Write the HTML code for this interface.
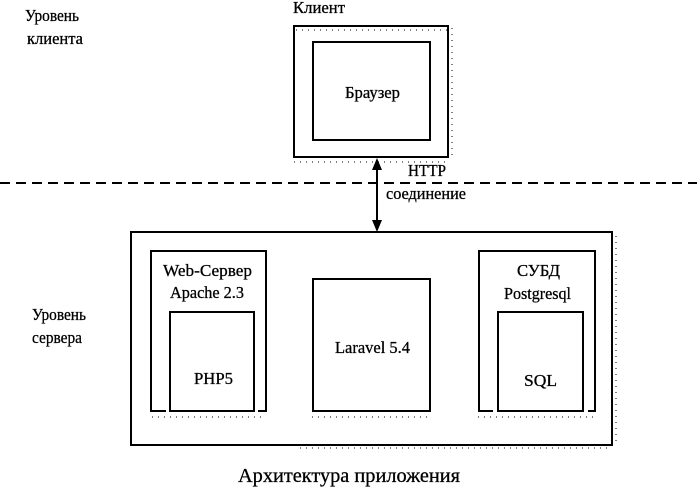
<!DOCTYPE html>
<html><head><meta charset="utf-8"><style>html,body{margin:0;padding:0;background:#fff}svg{display:block}</style></head>
<body>
<svg width="697" height="488" viewBox="0 0 697 488" xmlns="http://www.w3.org/2000/svg" font-family="Liberation Serif, serif" font-size="17" fill="#000">
<g fill="none" stroke="#000" stroke-width="2">
<rect x="294" y="26" width="154" height="131"/>
<rect x="313" y="42" width="117" height="98"/>
<line x1="0" y1="183" x2="697" y2="183" stroke-dasharray="10,6"/>
<line x1="377" y1="168" x2="377" y2="222"/>
<rect x="131" y="232" width="481" height="213"/>
<path d="M166,411 H151 V251 H266 V411 H258"/>
<rect x="170" y="312" width="84" height="99"/>
<rect x="313" y="279" width="117" height="132"/>
<path d="M493,411 H479 V251 H595 V411 H588"/>
<rect x="498" y="312" width="85" height="99"/>
</g>
<polygon points="377,158 372,170 382,170"/>
<polygon points="377,232 372,220 382,220"/>
<g stroke="#000" stroke-width="1" stroke-dasharray="1,5" fill="none">
<line x1="294" y1="162" x2="450" y2="162"/>
<line x1="452" y1="28" x2="452" y2="160"/>
<line x1="296" y1="30" x2="448" y2="30"/>
<line x1="300" y1="448" x2="612" y2="448"/>
<line x1="616" y1="236" x2="616" y2="446"/>
<line x1="152" y1="417" x2="266" y2="417"/>
<line x1="312" y1="417" x2="430" y2="417"/>
<line x1="478" y1="417" x2="595" y2="417"/>
</g>
<g stroke="#000" stroke-width="0.3">
<text x="25" y="21" textLength="54" lengthAdjust="spacingAndGlyphs">Уровень</text>
<text x="27" y="44" textLength="56" lengthAdjust="spacingAndGlyphs">клиента</text>
<text x="293" y="13" textLength="52" lengthAdjust="spacingAndGlyphs">Клиент</text>
<text x="345" y="98" textLength="55" lengthAdjust="spacingAndGlyphs">Браузер</text>
<text x="408" y="176" textLength="38" lengthAdjust="spacingAndGlyphs">HTTP</text>
<text x="386" y="199" textLength="80" lengthAdjust="spacingAndGlyphs">соединение</text>
<text x="163" y="276" textLength="89" lengthAdjust="spacingAndGlyphs">Web-Сервер</text>
<text x="170" y="298" textLength="74" lengthAdjust="spacingAndGlyphs">Apache 2.3</text>
<text x="194" y="384" textLength="39" lengthAdjust="spacingAndGlyphs">PHP5</text>
<text x="335" y="353" textLength="75" lengthAdjust="spacingAndGlyphs">Laravel 5.4</text>
<text x="517" y="276" textLength="43" lengthAdjust="spacingAndGlyphs">СУБД</text>
<text x="504" y="299" textLength="67" lengthAdjust="spacingAndGlyphs">Postgresql</text>
<text x="524" y="386" textLength="33" lengthAdjust="spacingAndGlyphs">SQL</text>
<text x="32" y="320" textLength="54" lengthAdjust="spacingAndGlyphs">Уровень</text>
<text x="32" y="343" textLength="50" lengthAdjust="spacingAndGlyphs">сервера</text>
<text x="238" y="482" font-size="20" textLength="222" lengthAdjust="spacingAndGlyphs">Архитектура приложения</text>
</g>
</svg>
</body></html>
